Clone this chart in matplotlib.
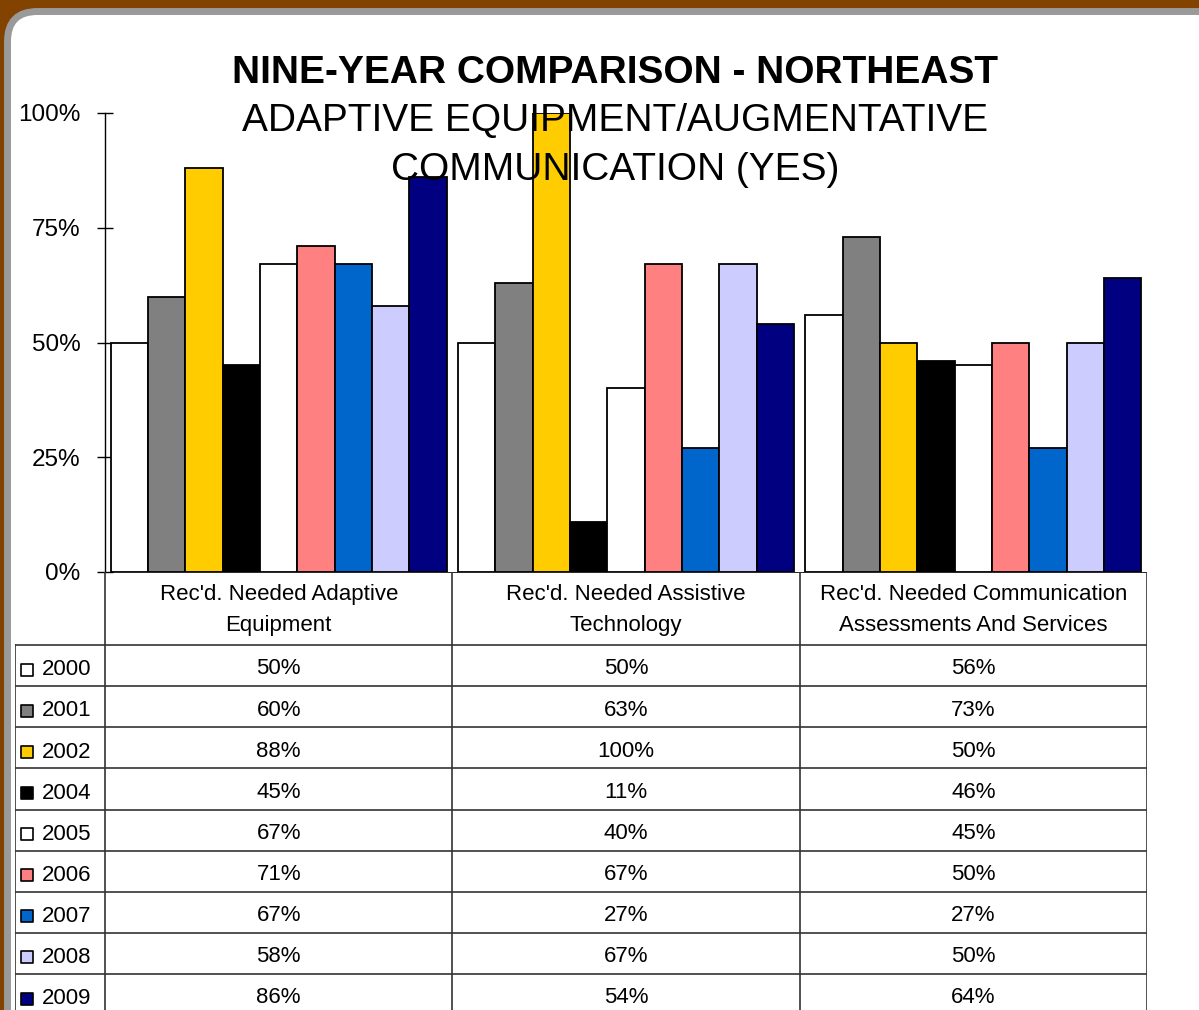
import matplotlib
matplotlib.use("Agg")
import matplotlib.pyplot as plt
from matplotlib.patches import FancyBboxPatch

plt.rcParams['font.family'] = ['Liberation Sans', 'DejaVu Sans']

categories = ["Rec'd. Needed Adaptive\nEquipment",
              "Rec'd. Needed Assistive\nTechnology",
              "Rec'd. Needed Communication\nAssessments And Services"]
years = ['2000', '2001', '2002', '2004', '2005', '2006', '2007', '2008', '2009']
colors = ['#FFFFFF', '#808080', '#FFCC00', '#000000', '#FFFFFF',
          '#FF8080', '#0066CC', '#CCCCFF', '#000080']
values = [
    [50, 50, 56],
    [60, 63, 73],
    [88, 100, 50],
    [45, 11, 46],
    [67, 40, 45],
    [71, 67, 50],
    [67, 27, 27],
    [58, 67, 50],
    [86, 54, 64],
]
yticks = [0, 25, 50, 75, 100]

W, H = 1199, 1010
fig = plt.figure(figsize=(W / 100, H / 100), dpi=100, facecolor='#824200')

# rounded white panel with grey border
panel = FancyBboxPatch((0.075, -0.5), 13, 10.10 - 0.115 + 0.5,
                       boxstyle='round,pad=0,rounding_size=0.3',
                       transform=fig.dpi_scale_trans, facecolor='white',
                       edgecolor='#9a9a9a', linewidth=5, zorder=-10)
fig.patches.append(panel)


def fx(x):
    return x / W


def fy(y):
    return 1 - y / H


# bar chart
ax = fig.add_axes([fx(105), fy(572), fx(1147 - 105), (572 - 113) / H])
ax.set_facecolor('none')
n = len(years)
bw = 1 / 9.3
for k in range(n):
    xs = [g + 0.5 + (k - (n - 1) / 2) * bw for g in range(len(categories))]
    ax.bar(xs, [v / 100 for v in values[k]], width=bw, color=colors[k],
           edgecolor='black', linewidth=1.3, zorder=2)
ax.set_xlim(0, 3)
ax.set_ylim(0, 1)
ax.set_yticks([t / 100 for t in yticks])
ax.set_yticklabels([f'{t}%' for t in yticks], fontsize=17.5)
ax.set_xticks([])
ax.tick_params(axis='y', direction='inout', length=11.5, width=1, pad=12)
for s in ['top', 'right', 'bottom']:
    ax.spines[s].set_visible(False)
ax.spines['left'].set_linewidth(1)

# data table
tax = fig.add_axes([fx(15), fy(1015), fx(1147 - 15), (1015 - 572) / H])
tax.set_facecolor('none')
x_left = -90 / 347
y_top = -73 / 41
tax.set_xlim(x_left, 3)
tax.set_ylim(n, y_top)
tax.axis('off')
tax.plot([0, 3], [y_top, y_top], color='black', lw=1.2)
for r in range(n):
    tax.plot([x_left, 3], [r, r], color='#333333', lw=1.2)
tax.plot([x_left, x_left], [0, n], color='#333333', lw=1.2)
for c in range(4):
    tax.plot([c, c], [y_top, n], color='#333333', lw=1.2)

for g, cat in enumerate(categories):
    tax.text(g + 0.5, y_top / 2 + 0.03, cat, ha='center', va='center',
             fontsize=16, linespacing=1.65)
for k in range(n):
    tax.scatter([-0.2262], [k + 0.6], marker='s', s=85, color=colors[k],
                edgecolor='black', linewidth=1.2, clip_on=False)
    tax.text(-0.1816, k + 0.6, years[k], ha='left', va='center', fontsize=16)
    for g in range(len(categories)):
        tax.text(g + 0.5, k + 0.58, f'{values[k][g]}%', ha='center',
                 va='center', fontsize=16)

# title
fig.text(fx(615), fy(73), 'NINE-YEAR COMPARISON - NORTHEAST', ha='center',
         va='center', fontsize=28, fontweight='bold')
fig.text(fx(615), fy(121), 'ADAPTIVE EQUIPMENT/AUGMENTATIVE',
         ha='center', va='center', fontsize=28)
fig.text(fx(615), fy(170), 'COMMUNICATION (YES)',
         ha='center', va='center', fontsize=28)

fig.savefig('out.png', dpi=100, facecolor=fig.get_facecolor())
